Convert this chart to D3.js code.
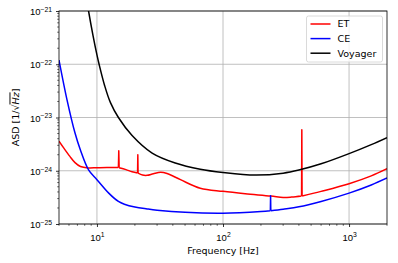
<!DOCTYPE html>
<html>
<head>
<meta charset="utf-8">
<script src="https://cdn.jsdelivr.net/npm/d3@7"></script>
<style>
  body { margin: 0; background: #fff; }
  svg { display: block; font-family: "DejaVu Sans", sans-serif; }
</style>
</head>
<body>
<script>
// frequency [Hz] / ASD pairs
var etFreq = [5, 5.5, 6.1, 6.7, 7.4, 8.5, 10, 12, 14.8, 14.9, 15.0, 17, 19, 21.0, 21.1, 21.2, 23, 25, 28, 32, 36, 46, 66, 100, 150, 240, 300, 350, 420, 422, 424, 600, 1000, 1500, 2000];
var etAsd = [3.6e-24, 2.6e-24, 1.86e-24, 1.42e-24, 1.2e-24, 1.13e-24, 1.14e-24, 1.15e-24, 1.15e-24, 2.37e-24, 1.14e-24, 1.05e-24, 9.6e-25, 9.1e-25, 2.0e-24, 9.0e-25, 8.3e-25, 8.2e-25, 8.8e-25, 9.4e-25, 8.9e-25, 6.8e-25, 4.7e-25, 4.1e-25, 3.7e-25, 3.35e-25, 3.15e-25, 3.2e-25, 3.35e-25, 5.9e-24, 3.35e-25, 4.1e-25, 5.7e-25, 8.0e-25, 1.09e-24];

var ceFreq = [5, 5.8, 6.7, 7.37, 8.58, 10, 12.4, 14.8, 16.5, 20, 25, 30, 50, 100, 200, 237.5, 238.5, 239.5, 300, 400, 600, 1000, 1500, 2000];
var ceAsd = [1.2e-22, 2.1e-23, 5.1e-24, 2.5e-24, 1.04e-24, 6.8e-25, 3.8e-25, 2.65e-25, 2.35e-25, 2.08e-25, 1.92e-25, 1.82e-25, 1.66e-25, 1.6e-25, 1.72e-25, 1.78e-25, 3.4e-25, 1.78e-25, 1.9e-25, 2.1e-25, 2.65e-25, 3.8e-25, 5.4e-25, 7.3e-25];

var voyFreq = [8.0, 8.58, 9.3, 10, 10.4, 11.5, 12.8, 14.8, 19, 27.4, 41.8, 66, 100, 180, 300, 400, 600, 1000, 1500, 2000];
var voyAsd = [2.8e-21, 1.0e-21, 3.5e-22, 1.5e-22, 1.0e-22, 4.0e-23, 1.9e-23, 1.0e-23, 4.6e-24, 2.15e-24, 1.4e-24, 1.07e-24, 9.3e-25, 8.3e-25, 9.0e-25, 1.03e-24, 1.35e-24, 2.1e-24, 3.1e-24, 4.2e-24];

var seriesNames = ['ET', 'CE', 'Voyager'];
var seriesColors = ['#ff0000', '#0000ff', '#000000'];

var xMajor = [10, 100, 1000];
var yMajor = [1e-25, 1e-24, 1e-23, 1e-22, 1e-21];

var width = 398, height = 263;
var margin = {left: 59, right: 11, top: 11, bottom: 39};

var svg = d3.select('body').append('svg')
    .attr('width', width).attr('height', height);

var x = d3.scaleLog().domain([5, 2000]).range([margin.left, width - margin.right]);
var y = d3.scaleLog().domain([1e-25, 1e-21]).range([height - margin.bottom, margin.top]);

// minor ticks for log axes
var xMinor = [];
[1, 10, 100, 1000].forEach(function (d) {
    for (var k = 2; k <= 9; k++) {
        var v = d * k;
        if (v >= 5 && v <= 2000) xMinor.push(v);
    }
});
var yMinor = [];
[1e-25, 1e-24, 1e-23, 1e-22].forEach(function (d) {
    for (var k = 2; k <= 9; k++) yMinor.push(d * k);
});

svg.append('clipPath').attr('id', 'clip').append('rect')
    .attr('x', x.range()[0]).attr('y', y.range()[1])
    .attr('width', x.range()[1] - x.range()[0])
    .attr('height', y.range()[0] - y.range()[1]);

// grid
var grid = svg.append('g').attr('stroke', '#b0b0b0').attr('stroke-width', 0.8);
grid.selectAll('.gx').data(xMajor).enter().append('line')
    .attr('x1', function (d) { return x(d); }).attr('x2', function (d) { return x(d); })
    .attr('y1', y.range()[0]).attr('y2', y.range()[1]);
grid.selectAll('.gy').data(yMajor).enter().append('line')
    .attr('y1', function (d) { return y(d); }).attr('y2', function (d) { return y(d); })
    .attr('x1', x.range()[0]).attr('x2', x.range()[1]);

// curves: smooth pieces, narrow spikes drawn straight
var smooth = d3.line()
    .x(function (d) { return x(d[0]); })
    .y(function (d) { return y(d[1]); })
    .curve(d3.curveCatmullRom.alpha(0.5));
var straight = d3.line()
    .x(function (d) { return x(d[0]); })
    .y(function (d) { return y(d[1]); });

var buildPath = function (pts) {
    var d = '', start = 0;
    for (var i = 1; i < pts.length - 1; i++) {
        if (pts[i][1] > 1.5 * Math.max(pts[i - 1][1], pts[i + 1][1])) {
            d += smooth(pts.slice(start, i));
            d += straight(pts.slice(i - 1, i + 2));
            start = i + 1;
        }
    }
    d += smooth(pts.slice(start));
    return d;
};

var series = [d3.zip(etFreq, etAsd), d3.zip(ceFreq, ceAsd), d3.zip(voyFreq, voyAsd)];
var curves = svg.append('g').attr('clip-path', 'url(#clip)');
series.forEach(function (s, i) {
    curves.append('path')
        .attr('d', buildPath(s))
        .attr('fill', 'none')
        .attr('stroke', seriesColors[i])
        .attr('stroke-width', 1.5)
        .attr('stroke-linejoin', 'round');
});

// axes
var fmtPow = function (sel, d) {
    var e = Math.round(Math.log10(d));
    sel.text('');
    sel.append('tspan').text('10');
    sel.append('tspan').attr('dy', '-0.45em').attr('font-size', '6.8px')
        .text(String(e).replace('-', '\u2212'));
};

var xAxis = svg.append('g').attr('transform', 'translate(0,' + y.range()[0] + ')')
    .call(d3.axisBottom(x).tickValues(xMajor).tickSize(3).tickFormat(''))
    .call(function (g) { g.select('.domain').remove(); });
xAxis.selectAll('.tick line').attr('stroke', '#000').attr('stroke-width', 0.8);
xAxis.selectAll('.xm').data(xMinor).enter().append('line')
    .attr('x1', function (d) { return x(d); }).attr('x2', function (d) { return x(d); })
    .attr('y1', 0).attr('y2', 1.8).attr('stroke', '#000').attr('stroke-width', 0.6);
xAxis.selectAll('.tick').append('text')
    .attr('fill', '#000').attr('font-size', '9.5px')
    .attr('y', 16.5).attr('x', 0).attr('text-anchor', 'middle')
    .each(function (d) { fmtPow(d3.select(this), d); });

var yAxis = svg.append('g').attr('transform', 'translate(' + x.range()[0] + ',0)')
    .call(d3.axisLeft(y).tickValues(yMajor).tickSize(3).tickFormat(''))
    .call(function (g) { g.select('.domain').remove(); });
yAxis.selectAll('.tick line').attr('stroke', '#000').attr('stroke-width', 0.8);
yAxis.selectAll('.ym').data(yMinor).enter().append('line')
    .attr('y1', function (d) { return y(d); }).attr('y2', function (d) { return y(d); })
    .attr('x1', 0).attr('x2', -1.8).attr('stroke', '#000').attr('stroke-width', 0.6);
yAxis.selectAll('.tick').append('text')
    .attr('fill', '#000').attr('font-size', '9.5px')
    .attr('x', -7).attr('y', 3.5).attr('text-anchor', 'end')
    .each(function (d) { fmtPow(d3.select(this), d); });

// frame
svg.append('rect')
    .attr('x', x.range()[0]).attr('y', y.range()[1])
    .attr('width', x.range()[1] - x.range()[0])
    .attr('height', y.range()[0] - y.range()[1])
    .attr('fill', 'none').attr('stroke', '#000').attr('stroke-width', 0.8);

// axis labels
svg.append('text')
    .attr('x', (x.range()[0] + x.range()[1]) / 2).attr('y', 254)
    .attr('text-anchor', 'middle').attr('font-size', '9.5px')
    .text('Frequency [Hz]');

var yl = svg.append('text')
    .attr('transform', 'translate(18.5,' + (y.range()[0] + y.range()[1]) / 2 + ') rotate(-90)')
    .attr('text-anchor', 'middle').attr('font-size', '9.5px');
yl.append('tspan').text('ASD [1/\u221A');
yl.append('tspan').attr('font-style', 'italic').style('text-decoration', 'overline').text('Hz');
yl.append('tspan').text(']');

// legend
var legend = svg.append('g').attr('transform', 'translate(306.5,16)');
legend.append('rect')
    .attr('width', 76).attr('height', 46).attr('rx', 2)
    .attr('fill', '#fff').attr('fill-opacity', 0.8)
    .attr('stroke', '#d0d0d0').attr('stroke-width', 0.8);
seriesNames.forEach(function (name, i) {
    var ly = 8 + i * 14.6;
    legend.append('line')
        .attr('x1', 4).attr('x2', 24).attr('y1', ly).attr('y2', ly)
        .attr('stroke', seriesColors[i]).attr('stroke-width', 1.5);
    legend.append('text')
        .attr('x', 31).attr('y', ly + 3.4)
        .attr('font-size', '9.5px')
        .text(name);
});
</script>
</body>
</html>
